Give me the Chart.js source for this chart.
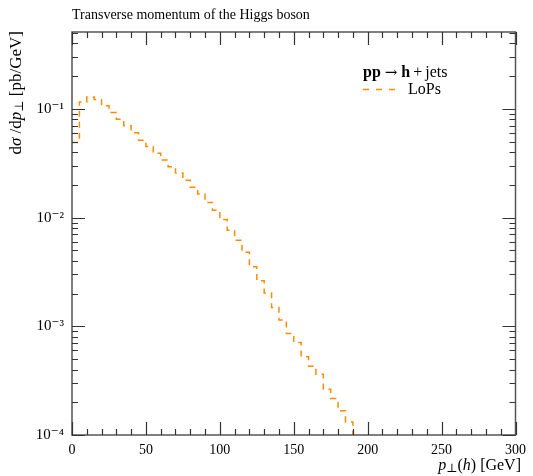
<!DOCTYPE html>
<html>
<head>
<meta charset="utf-8">
<script src="https://cdn.jsdelivr.net/npm/chart.js@4.4.1/dist/chart.umd.min.js"></script>
<style>
  html, body { margin: 0; padding: 0; background: #fff; }
  #wrap { width: 533px; height: 476px; }
</style>
</head>
<body>
<div id="wrap"><canvas id="ptChart" width="533" height="476"></canvas></div>
<script>
// lower bin edges [GeV], 5 GeV bins
const ptEdges = [0, 5, 10, 15, 20, 25, 30, 35, 40, 45, 50, 55, 60, 65, 70, 75, 80, 85, 90, 95,
    100, 105, 110, 115, 120, 125, 130, 135, 140, 145, 150, 155, 160, 165, 170, 175, 180, 185, 190];
// dsigma/dpT [pb/GeV], LoPs
const lopsValues = [0.0492, 0.116, 0.1285, 0.122, 0.1068, 0.0929, 0.0805, 0.0699, 0.0603, 0.0516,
    0.045, 0.039, 0.0338, 0.0293, 0.0257, 0.0221, 0.019, 0.0165, 0.0138, 0.0117,
    0.0096, 0.00767, 0.0062, 0.00479, 0.00353, 0.00262, 0.00203, 0.00149, 0.00114, 0.00086,
    0.00071, 0.000524, 0.00043, 0.000363, 0.000263, 0.000217, 0.000167, 0.000132, 0.00006];
const xTicks = [0, 50, 100, 150, 200, 250, 300];
const yDecades = [1e-4, 1e-3, 1e-2, 1e-1];
const yLabels = ['10⁻⁴', '10⁻³', '10⁻²', '10⁻¹'];

const serif = '"Liberation Serif", "DejaVu Serif", serif';
const lineColor = '#ff8c00';
const frameColor = '#555';

// draws a list of [text, font, dy] pieces starting at x
function drawPieces(ctx, pieces, x, y) {
    pieces.forEach(p => {
        ctx.font = p[1];
        ctx.fillText(p[0], x, y + (p[2] || 0));
        x += ctx.measureText(p[0]).width + (p[3] || 0);
    });
    return x;
}
function piecesWidth(ctx, pieces) {
    let w = 0;
    pieces.forEach(p => { ctx.font = p[1]; w += ctx.measureText(p[0]).width + (p[3] || 0); });
    return w;
}

const decorations = {
    id: 'decorations',
    afterDraw(chart) {
        const ctx = chart.ctx;
        const a = chart.chartArea;
        const xs = chart.scales.x, ys = chart.scales.y;
        ctx.save();

        // frame
        ctx.strokeStyle = frameColor;
        ctx.lineWidth = 1.5;
        ctx.strokeRect(a.left, a.top, a.right - a.left, a.bottom - a.top);

        // inward ticks
        ctx.lineWidth = 1.2;
        ctx.strokeStyle = '#333';
        ctx.beginPath();
        for (let v = 0; v <= 300; v += 10) {
            const px = Math.round(xs.getPixelForValue(v)) + 0.5;
            const len = v % 50 === 0 ? 13 : 6;
            ctx.moveTo(px, a.bottom); ctx.lineTo(px, a.bottom - len);
            ctx.moveTo(px, a.top); ctx.lineTo(px, a.top + len);
        }
        yDecades.forEach(d => {
            for (let k = 1; k <= 9; k++) {
                const v = d * k;
                if (v > ys.max) break;
                const py = Math.round(ys.getPixelForValue(v)) + 0.5;
                const len = k === 1 ? 13 : 6;
                ctx.moveTo(a.left, py); ctx.lineTo(a.left + len, py);
                ctx.moveTo(a.right, py); ctx.lineTo(a.right - len, py);
            }
        });
        ctx.stroke();

        ctx.fillStyle = '#000';
        ctx.textBaseline = 'alphabetic';
        ctx.textAlign = 'left';

        // title
        ctx.font = '14px ' + serif;
        ctx.fillText('Transverse momentum of the Higgs boson', a.left, 19);

        // x axis title, right aligned
        const xt = [
            ['p', 'italic 16px ' + serif],
            ['⊥', '12px ' + serif, 2],
            ['(', '16px ' + serif],
            ['h', 'italic 16px ' + serif],
            [') [GeV]', '16px ' + serif]
        ];
        drawPieces(ctx, xt, 521 - piecesWidth(ctx, xt), 470);

        // y axis title, rotated, aligned to the top
        const yt = [
            ['d', '17px ' + serif],
            ['σ', 'italic 17px ' + serif],
            [' /d', '17px ' + serif],
            ['p', 'italic 17px ' + serif],
            ['⊥', '12px ' + serif, 2],
            [' [pb/GeV]', '17px ' + serif]
        ];
        ctx.save();
        ctx.translate(21, 31);
        ctx.rotate(-Math.PI / 2);
        drawPieces(ctx, yt, -piecesWidth(ctx, yt), 0);
        ctx.restore();

        // legend
        drawPieces(ctx, [
            ['pp', 'bold 16px ' + serif, 0, 4],
            ['→', '15px "DejaVu Serif"', 0, 4],
            ['h', 'bold 16px ' + serif, 0, 3],
            ['+', '16px ' + serif, 0, 3],
            ['jets', '16px ' + serif]
        ], 363, 77);
        ctx.strokeStyle = lineColor;
        ctx.lineWidth = 1.5;
        ctx.setLineDash([6, 7]);
        ctx.beginPath();
        ctx.moveTo(363, 89.5); ctx.lineTo(400, 89.5);
        ctx.stroke();
        ctx.setLineDash([]);
        ctx.font = '16px ' + serif;
        ctx.fillText('LoPs', 408, 94);

        ctx.restore();
    }
};

new Chart(document.getElementById('ptChart'), {
    type: 'line',
    data: {
        datasets: [{
            label: 'LoPs',
            data: ptEdges.map((e, i) => ({ x: e, y: lopsValues[i] })),
            stepped: 'before',
            borderColor: lineColor,
            borderWidth: 1.5,
            borderDash: [6, 5],
            pointRadius: 0,
            fill: false,
            clip: 0
        }]
    },
    options: {
        responsive: false,
        animation: false,
        layout: { padding: { left: 0, right: 13.4, top: 32, bottom: 0 } },
        plugins: { legend: { display: false }, title: { display: false }, tooltip: { enabled: false } },
        scales: {
            x: {
                type: 'linear',
                min: 0,
                max: 300,
                afterFit: s => { s.height = 41; },
                afterBuildTicks: s => { s.ticks = xTicks.map(v => ({ value: v })); },
                grid: { display: false, drawTicks: false },
                border: { display: false },
                ticks: {
                    color: '#000',
                    padding: 7,
                    maxRotation: 0,
                    font: { family: serif, size: 14 },
                    callback: v => String(v)
                }
            },
            y: {
                type: 'logarithmic',
                min: 1e-4,
                max: 0.51,
                afterFit: s => { s.width = 72; },
                afterBuildTicks: s => { s.ticks = yDecades.map(v => ({ value: v })); },
                grid: { display: false, drawTicks: false },
                border: { display: false },
                ticks: {
                    color: '#000',
                    padding: 8,
                    autoSkip: false,
                    font: { family: serif, size: 15 },
                    callback: v => {
                        const i = yDecades.findIndex(d => Math.abs(d - v) < d * 1e-6);
                        return i >= 0 ? yLabels[i] : '';
                    }
                }
            }
        }
    },
    plugins: [decorations]
});
</script>
</body>
</html>
